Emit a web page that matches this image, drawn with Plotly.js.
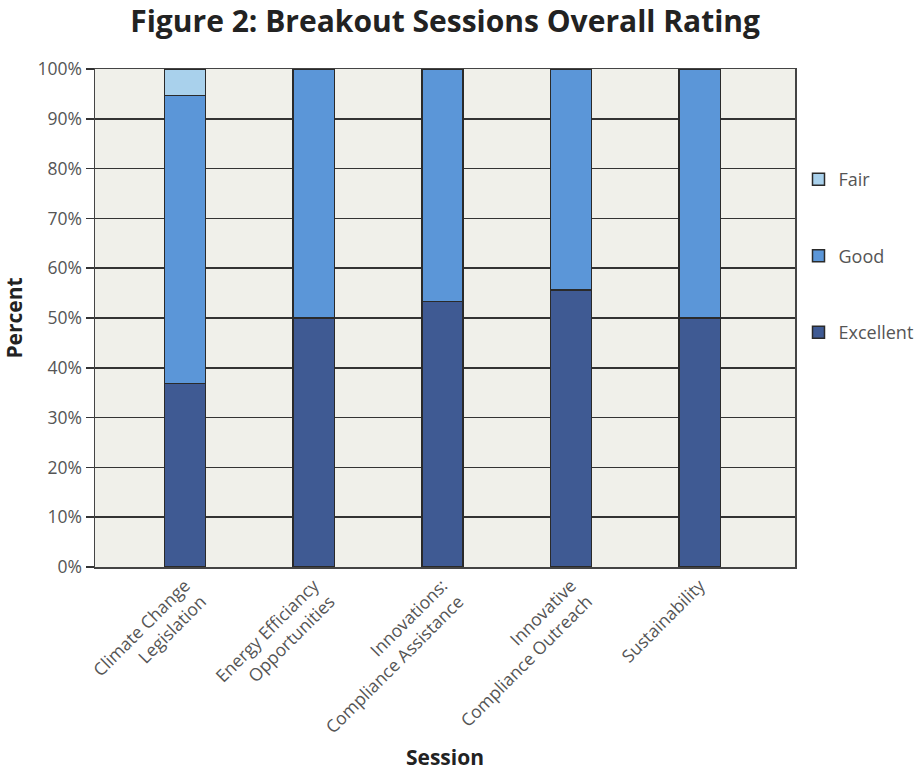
<!DOCTYPE html>
<html>
<head>
<meta charset="utf-8">
<script src="https://cdn.plot.ly/plotly-3.0.1.min.js"></script>
<style>html,body{margin:0;padding:0;background:#fff;}#chart{width:914px;height:771px;}</style>
</head>
<body>
<div id="chart"></div>
<script>
var sessions = ["Climate Change<br>Legislation", "Energy Efficiancy<br>Opportunities", "Innovations:<br>Compliance Assistance", "Innovative<br>Compliance Outreach", "Sustainability"];
var excellent = [36.8, 50, 53.3, 55.6, 50];
var good = [57.9, 50, 46.7, 44.4, 50];
var fair = [5.3, 0, 0, 0, 0];
var yTicks = [0, 10, 20, 30, 40, 50, 60, 70, 80, 90, 100];

var idx = sessions.map(function(_, i){ return i; });
function mk(name, vals, color, grp, rank){
  return {type:'bar', name:name, x:idx, y:vals, width:0.32, legendgroup:grp, legendrank:rank,
    marker:{color:color, line:{color:'#2a2a2a', width:1.5}}, hoverinfo:'y+name'};
}
var data = [
  mk('Excellent', excellent, '#3f5a93', 'a', 3),
  mk('Good', good, '#5b96d8', 'b', 2),
  mk('Fair', fair, '#a9d1ec', 'c', 1)
];
var layout = {
  width:914, height:771, barmode:'stack',
  margin:{l:95, r:119, t:69, b:204, autoexpand:false},
  paper_bgcolor:'#ffffff', plot_bgcolor:'#f0f0ea',
  font:{family:'Open Sans, sans-serif', color:'#555'},
  title:{text:'Figure 2: Breakout Sessions Overall Rating', x:0.487, xanchor:'center', y:0.972, yanchor:'middle',
    font:{family:'Open Sans, sans-serif', size:30, color:'#222', weight:'bold'}},
  xaxis:{range:[-0.7, 4.74], tickmode:'array', tickvals:idx, ticktext:sessions, tickangle:-45,
    ticks:'', showgrid:false, zeroline:false, showline:true, linecolor:'#444', linewidth:1.5, mirror:true,
    tickfont:{size:17.5, color:'#555'},
    title:{text:'Session', standoff:14, font:{size:21, color:'#222', weight:'bold'}}},
  yaxis:{range:[0,100], tickmode:'array', tickvals:yTicks, ticktext:yTicks.map(function(v){return v+'%';}),
    ticks:'outside', ticklen:8, tickcolor:'#333', tickwidth:1.5,
    showgrid:true, gridcolor:'#333', gridwidth:1.5, zeroline:false,
    showline:true, linecolor:'#444', linewidth:1.5, mirror:true,
    tickfont:{size:17.5, color:'#555'},
    title:{text:'Percent', standoff:10, font:{size:21, color:'#222', weight:'bold'}}},
  legend:{x:1.005, xanchor:'left', y:0.815, yanchor:'top', traceorder:'grouped', tracegroupgap:50,
    font:{size:18, color:'#555'}, bgcolor:'rgba(0,0,0,0)'},
  showlegend:true
};
Plotly.newPlot('chart', data, layout, {displayModeBar:false, staticPlot:true});
</script>
</body>
</html>
